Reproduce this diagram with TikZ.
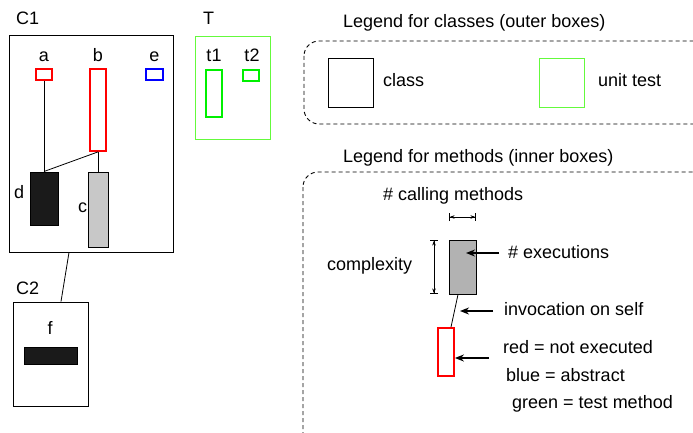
\documentclass[tikz,border=0pt]{standalone}
\usepackage{fontspec}
\setmainfont{Liberation Sans}
\usetikzlibrary{arrows.meta,calc}
\definecolor{lgreen}{RGB}{100,250,60}
\definecolor{mgreen}{RGB}{0,240,0}
\definecolor{dfill}{RGB}{26,26,26}
\definecolor{cfill}{RGB}{200,200,200}
\definecolor{gfill}{RGB}{178,178,178}
\begin{document}
\begin{tikzpicture}[x=1pt,y=-1pt,
  cls/.style={draw=black,line width=0.9pt,inner sep=0,fill=white},
  tcls/.style={draw=lgreen,line width=0.9pt,inner sep=0},
  mth/.style={draw,inner sep=0,line width=1pt},
  redm/.style={mth,draw=red,line width=1.8pt},
  bluem/.style={mth,draw=blue,line width=1.8pt},
  greenm/.style={mth,draw=mgreen,line width=1.8pt},
  lbl/.style={inner sep=0,font=\fontsize{18}{21}\selectfont},
  conn/.style={line width=0.8pt},
  bigarrow/.style={line width=2pt,-{Stealth[length=9pt,width=7pt]}},
  dim/.style={line width=0.6pt,{Bar[width=8pt]Stealth[length=5pt,width=3.5pt]}-{Stealth[length=5pt,width=3.5pt]Bar[width=8pt]}},
  legendbox/.style={draw,dashed,dash pattern=on 4pt off 3pt,line width=0.9pt,rounded corners=15pt}
]
\useasboundingbox (0,0) rectangle (693,433);
\clip (0,0) rectangle (693,433);

% C1
\node[cls,minimum width=164,minimum height=217] (C1) at (91,143.5) {};
\node[lbl,anchor=base west] (C1l) at (16,25) {C1};
\node[redm,minimum width=16,minimum height=11] (a) at (44,74.5) {};
\node[redm,minimum width=16,minimum height=82] (b) at (98,110) {};
\node[bluem,minimum width=17,minimum height=11] (e) at (154.5,74.5) {};
\node[mth,fill=dfill,minimum width=28,minimum height=53] (d) at (44,198.5) {};
\node[mth,fill=cfill,minimum width=20,minimum height=75] (c) at (98,209.5) {};
\node[lbl,anchor=base] (al) at (44,62) {a};
\node[lbl,anchor=base] (bl) at (98,62) {b};
\node[lbl,anchor=base] (el) at (154.5,62) {e};
\node[lbl,anchor=base west] (dl) at (14,198) {d};
\node[lbl,anchor=base west] (cl) at (78,212) {c};
\draw[conn] (a.south) -- (d.north);
\draw[conn] (b.south) -- (d.north);
\draw[conn] (b.south) -- (c.north);

% T
\node[tcls,minimum width=75,minimum height=103] (T) at (232.5,87.5) {};
\node[lbl,anchor=base west] (Tl) at (203,25) {T};
\node[greenm,minimum width=16,minimum height=47] (t1) at (214,93.5) {};
\node[greenm,minimum width=16,minimum height=11] (t2) at (251,75.5) {};
\node[lbl,anchor=base] (t1l) at (214,62) {t1};
\node[lbl,anchor=base] (t2l) at (252,62) {t2};

% C2
\node[cls,minimum width=75,minimum height=104] (C2) at (50.5,354) {};
\node[lbl,anchor=base west] (C2l) at (16,294) {C2};
\node[lbl,anchor=base] (fl) at (50,334) {f};
\node[mth,fill=dfill,minimum width=53,minimum height=17] (f) at (50.5,355.5) {};
\draw[conn] ([xshift=-22pt]C1.south) -- ([xshift=10.5pt]C2.north);

% Legend for classes
\node[lbl,anchor=base west] (lc) at (343,28) {Legend for classes (outer boxes)};
\draw[legendbox] (304,41) rectangle (720,124);
\node[cls,minimum width=45,minimum height=49] (lclass) at (350.5,82.5) {};
\node[lbl,anchor=base west] (lclassl) at (383,87) {class};
\node[tcls,minimum width=45,minimum height=49] (ltest) at (561.5,82.5) {};
\node[lbl,anchor=base west] (ltestl) at (598,87) {unit test};

% Legend for methods
\node[lbl,anchor=base west] (lm) at (343,162) {Legend for methods (inner boxes)};
\draw[legendbox] (303,172) rectangle (720,450);
\node[lbl,anchor=base west] (calling) at (383,200) {\# calling methods};
\node[mth,fill=gfill,minimum width=27,minimum height=54] (g) at (462.5,267) {};
\node[redm,minimum width=16,minimum height=48] (r) at (446,352) {};
\draw[conn] ([xshift=-4.5pt]g.south) -- ([xshift=5pt]r.north);
\coordinate (hw1) at (449,217);
\coordinate (hw2) at (476,217);
\draw[dim] (hw1) -- (hw2);
\coordinate (vh1) at (434,240);
\coordinate (vh2) at (434,294);
\draw[dim] (vh1) -- (vh2);
\node[lbl,anchor=base west] (cx) at (327,270) {complexity};
\coordinate (ex1) at (499,253);
\coordinate (ex2) at (466,253);
\draw[bigarrow] (ex1) -- (ex2);
\node[lbl,anchor=base west] (exl) at (508,258) {\# executions};
\coordinate (in1) at (493,311);
\coordinate (in2) at (460,311);
\draw[bigarrow] (in1) -- (in2);
\node[lbl,anchor=base west] (inl) at (504,315) {invocation on self};
\coordinate (rd1) at (489,358);
\draw[bigarrow] (rd1) -- (r.east |- rd1);
\node[lbl,anchor=base west] (rl) at (503,353) {red = not executed};
\node[lbl,anchor=base west] (bll) at (506,381) {blue = abstract};
\node[lbl,anchor=base west] (gl) at (512,408) {green = test method};
\end{tikzpicture}
\end{document}
